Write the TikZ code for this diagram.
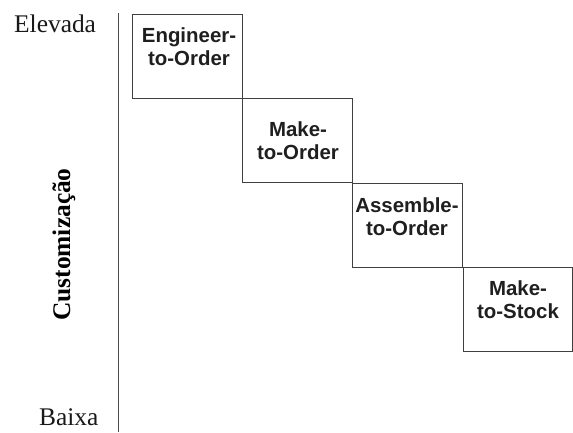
\documentclass[tikz,border=0pt]{standalone}
\usepackage{fontspec}
\setmainfont{Liberation Serif}
\newfontfamily\boxfont{Liberation Sans}
\begin{document}
\begin{tikzpicture}[x=1bp,y=-1bp,
  stagebox/.style={draw=black!75, line width=1.1bp, minimum width=110bp, minimum height=84bp, inner sep=0pt, anchor=north west},
  stagetext/.style={font=\boxfont\bfseries\fontsize{20.5}{23}\selectfont, text=black!88, align=center, inner sep=0pt, anchor=north},
  levellabel/.style={font=\fontsize{25.5}{28}\selectfont, text=black!90, inner sep=0pt, anchor=base west},
  axisline/.style={draw=black!70, line width=1.4bp}]
  \useasboundingbox[fill=white] (0,0) rectangle (573,432);

  % vertical axis
  \coordinate (axtop) at (118.5,13);
  \coordinate (axbot) at (118.5,432);
  \draw[axisline] (axtop) -- (axbot);

  % axis labels
  \node[levellabel] (high) at (14,32) {Elevada};
  \node[levellabel] (low) at (39,425.5) {Baixa};
  \node[font=\bfseries\fontsize{25.5}{28}\selectfont, rotate=90, anchor=base, inner sep=0pt] (custom) at (70,244.5) {Customização};

  % staircase of production strategies
  \node[stagebox] (eto) at (132,14) {};
  \node[stagebox] (mto) at (242,98) {};
  \node[stagebox] (ato) at (352,183) {};
  \node[stagebox, minimum width=109bp] (mts) at (463,267) {};

  \node[stagetext] (etotext) at (189,27.5) {Engineer-\\to-Order};
  \node[stagetext] (mtotext) at (298,121.5) {Make-\\to-Order};
  \node[stagetext] (atotext) at (407,197.5) {Assemble-\\to-Order};
  \node[stagetext] (mtstext) at (518,280.5) {Make-\\to-Stock};
\end{tikzpicture}
\end{document}
